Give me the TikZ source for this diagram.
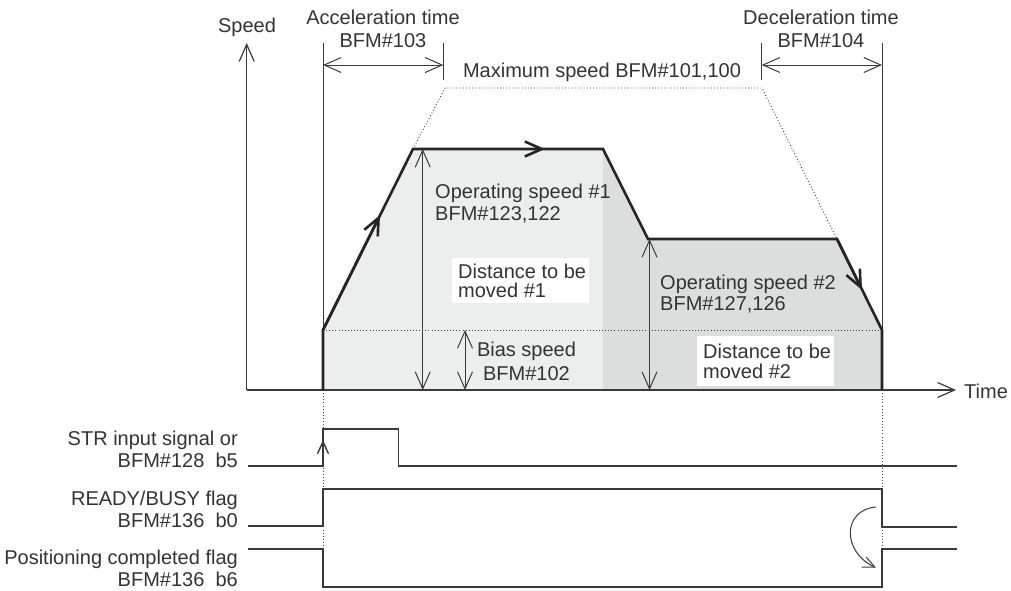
\documentclass[tikz,border=0pt]{standalone}
\usepackage{fontspec}
\setmainfont{Liberation Sans}
\usetikzlibrary{arrows.meta}
\definecolor{ink}{HTML}{262424}
\definecolor{txt}{HTML}{333333}
\definecolor{thinc}{HTML}{3A3A3A}
\definecolor{fillA}{HTML}{ECEDED}
\definecolor{fillB}{HTML}{DCDDDD}
\tikzset{
  vb/.tip={Straight Barb[length=17pt,width=15pt]},
  vbs/.tip={Straight Barb[length=12pt,width=11pt]},
  lbl/.style={anchor=base, inner sep=0pt, text=txt},
  lblw/.style={anchor=base west, inner sep=0pt, text=txt},
  lble/.style={anchor=base east, inner sep=0pt, text=txt},
  whitebox/.style={fill=white, inner sep=0pt},
  axisline/.style={draw=thinc, line width=1.2pt},
  dimline/.style={draw=thinc, line width=1pt},
  dotline/.style={draw=thinc, line width=0.9pt, dash pattern=on 0.9pt off 2.2pt},
  profile/.style={draw=ink, line width=2.6pt, line join=miter},
  sig/.style={draw=thinc, line width=1.4pt},
}
\begin{document}
\begin{tikzpicture}[x=1pt,y=-1pt,font=\fontsize{20}{24}\selectfont]
\useasboundingbox (0,0) rectangle (1011,590);
% shaded areas
\fill[fillA] (323,390) -- (323,330) -- (413,149) -- (603,149) -- (603,390) -- cycle;
\fill[fillB] (603,149) -- (648,239) -- (837,239) -- (882,330) -- (882,390) -- (603,390) -- cycle;
\node[whitebox, minimum width=137.3pt, minimum height=45pt] (db1) at (520.4,280.5) {};
\node[whitebox, minimum width=137pt, minimum height=50pt] (db2) at (765.5,361) {};
% dotted guides
\draw[dotline] (413,149) -- (445,88) -- (762,88) -- (837,239);
\draw[dotline] (323,330) -- (882,330);
\draw[dotline] (323,390) -- (323,549);
\draw[dotline] (882,390) -- (882,549);
% axes
\coordinate (O) at (246.7,390);
\draw[axisline,-vb] (O) -- (246.7,43);
\draw[axisline,-vb] (O) -- (956,390);
% dimension lines
\draw[dimline] (323,43) -- (323,330);
\draw[dimline] (443.3,43) -- (443.3,80);
\draw[dimline,vb-vb] (323,65) -- (443.3,65);
\draw[dimline] (761.7,43) -- (761.7,80);
\draw[dimline] (882,43) -- (882,330);
\draw[dimline,vb-vb] (761.7,65) -- (882,65);
\draw[dimline,vb-vb] (422.7,149) -- (422.7,390);
\draw[dimline,vb-vb] (465,330) -- (465,390);
\draw[dimline,vb-vb] (649.5,239) -- (649.5,390);
% profile
\draw[profile] (323,390) -- (323,330) -- (413,149) -- (603,149) -- (648,239) -- (837,239) -- (882,330) -- (882,390);
\draw[profile,-vb] (323,330) -- (380,215);
\draw[profile,-vb] (413,149) -- (545,149);
\draw[profile,-vb] (837,239) -- (862,290);
% signals
\draw[sig] (248,466) -- (323,466) -- (323,429) -- (398.3,429) -- (398.3,466) -- (957,466);
\draw[sig,-vbs] (323,466) -- (323,440);
\draw[sig] (248,526) -- (323,526) -- (323,489) -- (882,489) -- (882,527) -- (957,527);
\draw[sig] (248,549) -- (323,549) -- (323,587) -- (882,587) -- (882,549) -- (957,549);
\draw[dimline,-vbs] (876,507) .. controls (842,510) and (842,552) .. (876,567.7);
% texts
\node[lbl] (speed) at (247,32) {Speed};
\node[lbl] (acc1) at (383,24.5) {Acceleration time};
\node[lbl] (acc2) at (383,47.5) {BFM\#103};
\node[lbl] (dec1) at (821,24.5) {Deceleration time};
\node[lbl] (dec2) at (821,47.5) {BFM\#104};
\node[lbl] (maxs) at (602,77) {Maximum speed BFM\#101,100};
\node[lblw] (op1a) at (435,198.7) {Operating speed \#1};
\node[lblw] (op1b) at (435,220) {BFM\#123,122};
\node[lblw] (d1a) at (458,278.5) {Distance to be};
\node[lblw] (d1b) at (458,297.5) {moved \#1};
\node[lbl] (bias1) at (526.5,356) {Bias speed};
\node[lbl] (bias2) at (526.5,380) {BFM\#102};
\node[lblw] (op2a) at (660,289.3) {Operating speed \#2};
\node[lblw] (op2b) at (660,310.7) {BFM\#127,126};
\node[lblw] (d2a) at (703,358.3) {Distance to be};
\node[lblw] (d2b) at (703,378.3) {moved \#2};
\node[lblw] (time) at (964,398) {Time};
\node[lble] (str1) at (238,445) {STR input signal or};
\node[lble] (str2) at (238,467) {BFM\#128\ \ b5};
\node[lble] (rdy1) at (238,505) {READY/BUSY flag};
\node[lble] (rdy2) at (238,527) {BFM\#136\ \ b0};
\node[lble] (pos1) at (238,564.5) {Positioning completed flag};
\node[lble] (pos2) at (238,586.2) {BFM\#136\ \ b6};
\end{tikzpicture}
\end{document}
